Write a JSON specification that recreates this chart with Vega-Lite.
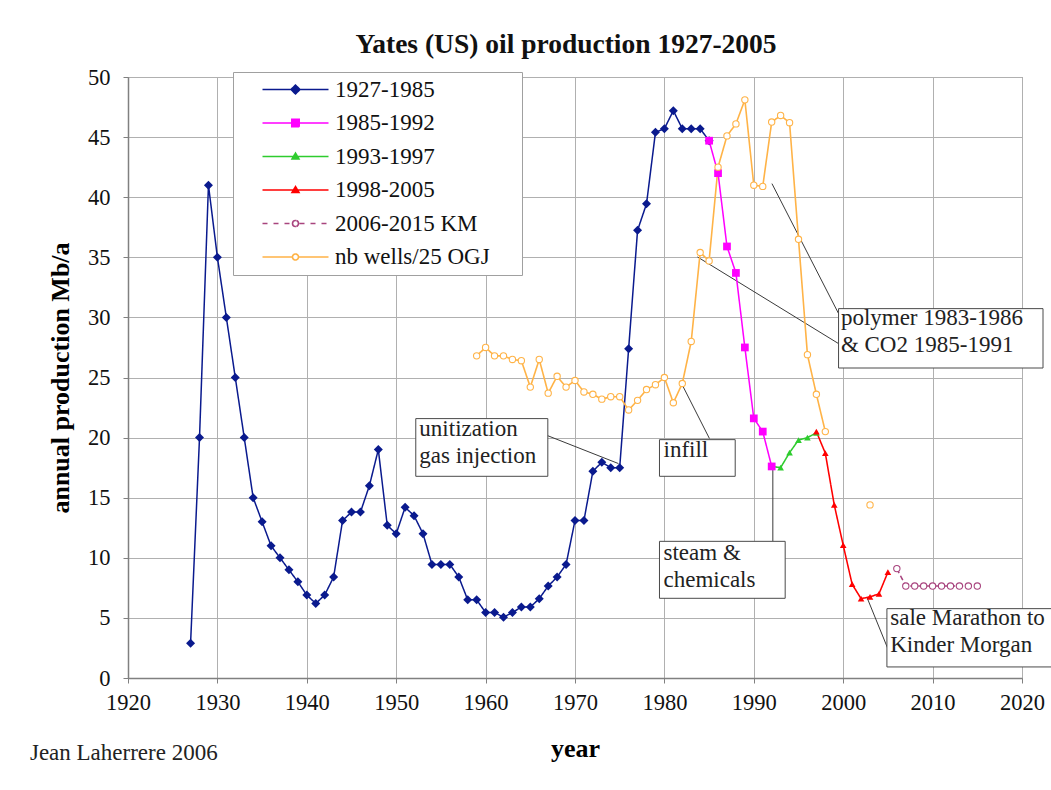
{
  "$schema": "https://vega.github.io/schema/vega-lite/v6.json",
  "width": 894,
  "height": 601,
  "autosize": {"type": "none"},
  "padding": {"left": 128, "top": 77, "right": 29, "bottom": 112},
  "background": "white",
  "config": {
    "font": "Liberation Serif",
    "view": {"stroke": "#808080", "strokeWidth": 1},
    "axis": {
      "labelFont": "Liberation Serif",
      "labelFontSize": 22.5,
      "labelColor": "#111",
      "titleFont": "Liberation Serif",
      "titleFontSize": 26,
      "titleFontWeight": "bold",
      "titleColor": "#000",
      "gridColor": "#b0b0b0",
      "gridWidth": 1,
      "domainColor": "#808080",
      "domainWidth": 1.5,
      "tickColor": "#808080",
      "tickSize": 5,
      "labelFlush": false,
      "labelOverlap": false
    },
    "axisX": {"labelPadding": 8, "titlePadding": 22},
    "axisY": {"labelPadding": 13, "titlePadding": 14},
    "legend": {
      "orient": "none",
      "legendX": 105,
      "legendY": -5,
      "padding": 6,
      "fillColor": "white",
      "strokeColor": "#a0a0a0",
      "symbolSize": 100,
      "symbolOffset": 45,
      "labelOffset": 28,
      "rowPadding": 9.5,
      "symbolStrokeWidth": 1.5,
      "symbolOpacity": 1,
      "labelFont": "Liberation Serif",
      "labelFontSize": 23,
      "labelColor": "#111",
      "labelLimit": 400
    }
  },
  "title": {
    "text": "Yates (US) oil production 1927-2005",
    "font": "Liberation Serif",
    "fontSize": 27.5,
    "fontWeight": "bold",
    "color": "#111",
    "anchor": "middle",
    "dx": -9,
    "offset": 8
  },
  "datasets": {
    "prod": [
      {"year": 1927, "value": 2.9, "series": "1927-1985", "seg": "a"},
      {"year": 1928, "value": 20, "series": "1927-1985", "seg": "a"},
      {"year": 1929, "value": 41, "series": "1927-1985", "seg": "a"},
      {"year": 1930, "value": 35, "series": "1927-1985", "seg": "a"},
      {"year": 1931, "value": 30, "series": "1927-1985", "seg": "a"},
      {"year": 1932, "value": 25, "series": "1927-1985", "seg": "a"},
      {"year": 1933, "value": 20, "series": "1927-1985", "seg": "a"},
      {"year": 1934, "value": 15, "series": "1927-1985", "seg": "a"},
      {"year": 1935, "value": 13, "series": "1927-1985", "seg": "a"},
      {"year": 1936, "value": 11, "series": "1927-1985", "seg": "a"},
      {"year": 1937, "value": 10, "series": "1927-1985", "seg": "a"},
      {"year": 1938, "value": 9, "series": "1927-1985", "seg": "a"},
      {"year": 1939, "value": 8, "series": "1927-1985", "seg": "a"},
      {"year": 1940, "value": 6.9, "series": "1927-1985", "seg": "a"},
      {"year": 1941, "value": 6.2, "series": "1927-1985", "seg": "a"},
      {"year": 1942, "value": 6.9, "series": "1927-1985", "seg": "a"},
      {"year": 1943, "value": 8.4, "series": "1927-1985", "seg": "a"},
      {"year": 1944, "value": 13.1, "series": "1927-1985", "seg": "a"},
      {"year": 1945, "value": 13.8, "series": "1927-1985", "seg": "a"},
      {"year": 1946, "value": 13.8, "series": "1927-1985", "seg": "a"},
      {"year": 1947, "value": 16, "series": "1927-1985", "seg": "a"},
      {"year": 1948, "value": 19, "series": "1927-1985", "seg": "a"},
      {"year": 1949, "value": 12.7, "series": "1927-1985", "seg": "a"},
      {"year": 1950, "value": 12, "series": "1927-1985", "seg": "a"},
      {"year": 1951, "value": 14.2, "series": "1927-1985", "seg": "a"},
      {"year": 1952, "value": 13.5, "series": "1927-1985", "seg": "a"},
      {"year": 1953, "value": 12, "series": "1927-1985", "seg": "a"},
      {"year": 1954, "value": 9.45, "series": "1927-1985", "seg": "a"},
      {"year": 1955, "value": 9.45, "series": "1927-1985", "seg": "a"},
      {"year": 1956, "value": 9.45, "series": "1927-1985", "seg": "a"},
      {"year": 1957, "value": 8.4, "series": "1927-1985", "seg": "a"},
      {"year": 1958, "value": 6.5, "series": "1927-1985", "seg": "a"},
      {"year": 1959, "value": 6.5, "series": "1927-1985", "seg": "a"},
      {"year": 1960, "value": 5.45, "series": "1927-1985", "seg": "a"},
      {"year": 1961, "value": 5.45, "series": "1927-1985", "seg": "a"},
      {"year": 1962, "value": 5.05, "series": "1927-1985", "seg": "a"},
      {"year": 1963, "value": 5.45, "series": "1927-1985", "seg": "a"},
      {"year": 1964, "value": 5.9, "series": "1927-1985", "seg": "a"},
      {"year": 1965, "value": 5.9, "series": "1927-1985", "seg": "a"},
      {"year": 1966, "value": 6.6, "series": "1927-1985", "seg": "a"},
      {"year": 1967, "value": 7.65, "series": "1927-1985", "seg": "a"},
      {"year": 1968, "value": 8.4, "series": "1927-1985", "seg": "a"},
      {"year": 1969, "value": 9.45, "series": "1927-1985", "seg": "a"},
      {"year": 1970, "value": 13.1, "series": "1927-1985", "seg": "a"},
      {"year": 1971, "value": 13.1, "series": "1927-1985", "seg": "a"},
      {"year": 1972, "value": 17.2, "series": "1927-1985", "seg": "a"},
      {"year": 1973, "value": 17.95, "series": "1927-1985", "seg": "a"},
      {"year": 1974, "value": 17.5, "series": "1927-1985", "seg": "a"},
      {"year": 1975, "value": 17.5, "series": "1927-1985", "seg": "a"},
      {"year": 1976, "value": 27.4, "series": "1927-1985", "seg": "a"},
      {"year": 1977, "value": 37.25, "series": "1927-1985", "seg": "a"},
      {"year": 1978, "value": 39.45, "series": "1927-1985", "seg": "a"},
      {"year": 1979, "value": 45.4, "series": "1927-1985", "seg": "a"},
      {"year": 1980, "value": 45.7, "series": "1927-1985", "seg": "a"},
      {"year": 1981, "value": 47.2, "series": "1927-1985", "seg": "a"},
      {"year": 1982, "value": 45.7, "series": "1927-1985", "seg": "a"},
      {"year": 1983, "value": 45.7, "series": "1927-1985", "seg": "a"},
      {"year": 1984, "value": 45.7, "series": "1927-1985", "seg": "a"},
      {"year": 1985, "value": 44.7, "series": "1927-1985", "seg": "a"},
      {"year": 1992, "value": 17.6, "series": "1993-1997", "seg": "a"},
      {"year": 1993, "value": 17.5, "series": "1993-1997", "seg": "a"},
      {"year": 1994, "value": 18.75, "series": "1993-1997", "seg": "a"},
      {"year": 1995, "value": 19.8, "series": "1993-1997", "seg": "a"},
      {"year": 1996, "value": 20.0, "series": "1993-1997", "seg": "a"},
      {"year": 1997, "value": 20.4, "series": "1993-1997", "seg": "a"},
      {"year": 1997, "value": 20.5, "series": "1998-2005", "seg": "a"},
      {"year": 1998, "value": 18.7, "series": "1998-2005", "seg": "a"},
      {"year": 1999, "value": 14.4, "series": "1998-2005", "seg": "a"},
      {"year": 2000, "value": 11.05, "series": "1998-2005", "seg": "a"},
      {"year": 2001, "value": 7.8, "series": "1998-2005", "seg": "a"},
      {"year": 2002, "value": 6.6, "series": "1998-2005", "seg": "a"},
      {"year": 2003, "value": 6.75, "series": "1998-2005", "seg": "a"},
      {"year": 2004, "value": 7.0, "series": "1998-2005", "seg": "a"},
      {"year": 2005, "value": 8.8, "series": "1998-2005", "seg": "a"},
      {"year": 1985, "value": 44.7, "series": "1985-1992", "seg": "a"},
      {"year": 1986, "value": 42.0, "series": "1985-1992", "seg": "a"},
      {"year": 1987, "value": 35.9, "series": "1985-1992", "seg": "a"},
      {"year": 1988, "value": 33.7, "series": "1985-1992", "seg": "a"},
      {"year": 1989, "value": 27.5, "series": "1985-1992", "seg": "a"},
      {"year": 1990, "value": 21.6, "series": "1985-1992", "seg": "a"},
      {"year": 1991, "value": 20.5, "series": "1985-1992", "seg": "a"},
      {"year": 1992, "value": 17.6, "series": "1985-1992", "seg": "a"},
      {"year": 2006, "value": 9.1, "series": "2006-2015 KM", "seg": "a"},
      {"year": 2007, "value": 7.65, "series": "2006-2015 KM", "seg": "a"},
      {"year": 2008, "value": 7.65, "series": "2006-2015 KM", "seg": "a"},
      {"year": 2009, "value": 7.65, "series": "2006-2015 KM", "seg": "a"},
      {"year": 2010, "value": 7.65, "series": "2006-2015 KM", "seg": "a"},
      {"year": 2011, "value": 7.65, "series": "2006-2015 KM", "seg": "a"},
      {"year": 2012, "value": 7.65, "series": "2006-2015 KM", "seg": "a"},
      {"year": 2013, "value": 7.65, "series": "2006-2015 KM", "seg": "a"},
      {"year": 2014, "value": 7.65, "series": "2006-2015 KM", "seg": "a"},
      {"year": 2015, "value": 7.65, "series": "2006-2015 KM", "seg": "a"},
      {"year": 1959, "value": 26.8, "series": "nb wells/25 OGJ", "seg": "a"},
      {"year": 1960, "value": 27.5, "series": "nb wells/25 OGJ", "seg": "a"},
      {"year": 1961, "value": 26.8, "series": "nb wells/25 OGJ", "seg": "a"},
      {"year": 1962, "value": 26.8, "series": "nb wells/25 OGJ", "seg": "a"},
      {"year": 1963, "value": 26.5, "series": "nb wells/25 OGJ", "seg": "a"},
      {"year": 1964, "value": 26.4, "series": "nb wells/25 OGJ", "seg": "a"},
      {"year": 1965, "value": 24.2, "series": "nb wells/25 OGJ", "seg": "a"},
      {"year": 1966, "value": 26.5, "series": "nb wells/25 OGJ", "seg": "a"},
      {"year": 1967, "value": 23.7, "series": "nb wells/25 OGJ", "seg": "a"},
      {"year": 1968, "value": 25.1, "series": "nb wells/25 OGJ", "seg": "a"},
      {"year": 1969, "value": 24.2, "series": "nb wells/25 OGJ", "seg": "a"},
      {"year": 1970, "value": 24.75, "series": "nb wells/25 OGJ", "seg": "a"},
      {"year": 1971, "value": 23.8, "series": "nb wells/25 OGJ", "seg": "a"},
      {"year": 1972, "value": 23.6, "series": "nb wells/25 OGJ", "seg": "a"},
      {"year": 1973, "value": 23.2, "series": "nb wells/25 OGJ", "seg": "a"},
      {"year": 1974, "value": 23.4, "series": "nb wells/25 OGJ", "seg": "a"},
      {"year": 1975, "value": 23.4, "series": "nb wells/25 OGJ", "seg": "a"},
      {"year": 1976, "value": 22.3, "series": "nb wells/25 OGJ", "seg": "a"},
      {"year": 1977, "value": 23.1, "series": "nb wells/25 OGJ", "seg": "a"},
      {"year": 1978, "value": 24.0, "series": "nb wells/25 OGJ", "seg": "a"},
      {"year": 1979, "value": 24.4, "series": "nb wells/25 OGJ", "seg": "a"},
      {"year": 1980, "value": 25.0, "series": "nb wells/25 OGJ", "seg": "a"},
      {"year": 1981, "value": 22.9, "series": "nb wells/25 OGJ", "seg": "a"},
      {"year": 1982, "value": 24.5, "series": "nb wells/25 OGJ", "seg": "a"},
      {"year": 1983, "value": 28.0, "series": "nb wells/25 OGJ", "seg": "a"},
      {"year": 1984, "value": 35.4, "series": "nb wells/25 OGJ", "seg": "a"},
      {"year": 1985, "value": 34.7, "series": "nb wells/25 OGJ", "seg": "a"},
      {"year": 1986, "value": 42.5, "series": "nb wells/25 OGJ", "seg": "a"},
      {"year": 1987, "value": 45.1, "series": "nb wells/25 OGJ", "seg": "a"},
      {"year": 1988, "value": 46.1, "series": "nb wells/25 OGJ", "seg": "a"},
      {"year": 1989, "value": 48.1, "series": "nb wells/25 OGJ", "seg": "a"},
      {"year": 1990, "value": 41.0, "series": "nb wells/25 OGJ", "seg": "a"},
      {"year": 1991, "value": 40.9, "series": "nb wells/25 OGJ", "seg": "a"},
      {"year": 1992, "value": 46.25, "series": "nb wells/25 OGJ", "seg": "a"},
      {"year": 1993, "value": 46.8, "series": "nb wells/25 OGJ", "seg": "a"},
      {"year": 1994, "value": 46.2, "series": "nb wells/25 OGJ", "seg": "a"},
      {"year": 1995, "value": 36.5, "series": "nb wells/25 OGJ", "seg": "a"},
      {"year": 1996, "value": 26.9, "series": "nb wells/25 OGJ", "seg": "a"},
      {"year": 1997, "value": 23.6, "series": "nb wells/25 OGJ", "seg": "a"},
      {"year": 1998, "value": 20.5, "series": "nb wells/25 OGJ", "seg": "a"},
      {"year": 2003, "value": 14.4, "series": "nb wells/25 OGJ", "seg": "b"}
    ],
    "leaders": [
      {"x1": 1966.84, "y1": 20.19, "x2": 1974.86, "y2": 17.84},
      {"x1": 1982.02, "y1": 24.35, "x2": 1985.04, "y2": 19.92},
      {"x1": 1992.13, "y1": 17.53, "x2": 1992.13, "y2": 11.37},
      {"x1": 1983.70, "y1": 35.03, "x2": 1999.48, "y2": 27.82},
      {"x1": 1992.03, "y1": 41.13, "x2": 1999.48, "y2": 30.32},
      {"x1": 2002.64, "y1": 6.74, "x2": 2005.07, "y2": 2.3}
    ],
    "boxes": [
      {"x1": 1952.19, "x2": 1966.96, "y1": 21.58, "y2": 16.78},
      {"x1": 1979.45, "x2": 1987.92, "y1": 19.83, "y2": 16.78},
      {"x1": 1979.45, "x2": 1993.51, "y1": 11.37, "y2": 6.63},
      {"x1": 1999.48, "x2": 2022.35, "y1": 30.73, "y2": 25.79},
      {"x1": 2004.89, "x2": 2024.0, "y1": 5.77, "y2": 0.92}
    ],
    "notes": [
      {"x": 1952.59, "y": 20.1, "text": "unitization\ngas injection"},
      {"x": 1979.9, "y": 18.39, "text": "infill"},
      {"x": 1979.9, "y": 9.79, "text": "steam &\nchemicals"},
      {"x": 1999.74, "y": 29.34, "text": "polymer 1983-1986\n& CO2 1985-1991"},
      {"x": 2005.26, "y": 4.38, "text": "sale Marathon to\nKinder Morgan"},
      {"x": 1909.03, "y": -6.85, "text": "Jean Laherrere 2006"}
    ]
  },
  "layer": [
    {
      "data": {"name": "leaders"},
      "mark": {"type": "rule", "color": "#3a3a3a", "strokeWidth": 1},
      "encoding": {
        "x": {"field": "x1", "type": "quantitative", "scale": {"domain": [1920, 2020], "nice": false, "zero": false},
          "axis": {"title": "year", "values": [1920, 1930, 1940, 1950, 1960, 1970, 1980, 1990, 2000, 2010, 2020], "format": "d", "grid": true}},
        "y": {"field": "y1", "type": "quantitative", "scale": {"domain": [0, 50], "nice": false},
          "axis": {"title": "annual production Mb/a", "values": [0, 5, 10, 15, 20, 25, 30, 35, 40, 45, 50], "grid": true}},
        "x2": {"field": "x2"},
        "y2": {"field": "y2"}
      }
    },
    {
      "data": {"name": "prod"},
      "mark": {"type": "line", "clip": false},
      "encoding": {
        "x": {
          "field": "year", "type": "quantitative",
          "scale": {"domain": [1920, 2020], "nice": false, "zero": false},
          "axis": {"title": "year", "values": [1920, 1930, 1940, 1950, 1960, 1970, 1980, 1990, 2000, 2010, 2020], "format": "d", "grid": true}
        },
        "y": {
          "field": "value", "type": "quantitative",
          "scale": {"domain": [0, 50], "nice": false},
          "axis": {"title": "annual production Mb/a", "values": [0, 5, 10, 15, 20, 25, 30, 35, 40, 45, 50], "grid": true}
        },
        "color": {
          "field": "series", "type": "nominal",
          "scale": {
            "domain": ["1927-1985", "1985-1992", "1993-1997", "1998-2005", "2006-2015 KM", "nb wells/25 OGJ"],
            "range": ["#0a1a8e", "#ff00ff", "#2ecc2e", "#ff0000", "#a8447e", "#ffb347"]
          },
          "legend": {"title": null}
        },
        "strokeDash": {
          "field": "series", "type": "nominal",
          "scale": {
            "domain": ["1927-1985", "1985-1992", "1993-1997", "1998-2005", "2006-2015 KM", "nb wells/25 OGJ"],
            "range": [[1, 0], [1, 0], [1, 0], [1, 0], [5, 3], [1, 0]]
          },
          "legend": null
        },
        "strokeWidth": {
          "field": "series", "type": "nominal",
          "scale": {
            "domain": ["1927-1985", "1985-1992", "1993-1997", "1998-2005", "2006-2015 KM", "nb wells/25 OGJ"],
            "range": [1.5, 1.6, 1.6, 1.6, 1.4, 1.2]
          },
          "legend": null
        },
        "detail": {"field": "seg", "type": "nominal"},
        "order": {"field": "year", "type": "quantitative"}
      }
    },
    {
      "data": {"name": "prod"},
      "mark": {"type": "point", "filled": false, "opacity": 0, "size": 100},
      "encoding": {
        "x": {"field": "year", "type": "quantitative", "scale": {"domain": [1920, 2020], "nice": false, "zero": false},
          "axis": {"title": "year", "values": [1920, 1930, 1940, 1950, 1960, 1970, 1980, 1990, 2000, 2010, 2020], "format": "d", "grid": true}},
        "y": {"field": "value", "type": "quantitative", "scale": {"domain": [0, 50], "nice": false},
          "axis": {"title": "annual production Mb/a", "values": [0, 5, 10, 15, 20, 25, 30, 35, 40, 45, 50], "grid": true}},
        "color": {"field": "series", "type": "nominal", "legend": {"title": null}},
        "shape": {
          "field": "series", "type": "nominal",
          "scale": {
            "domain": ["1927-1985", "1985-1992", "1993-1997", "1998-2005", "2006-2015 KM", "nb wells/25 OGJ"],
            "range": [
              "M-6.6,0L6.6,0M0,-0.9L0.9,0L0,0.9L-0.9,0ZM0,-0.6L0.6,0L0,0.6L-0.6,0ZM0,-0.3L0.3,0L0,0.3L-0.3,0ZM43.3,0",
              "M-6.6,0L6.6,0M-0.75,-0.75L0.75,-0.75L0.75,0.75L-0.75,0.75ZM-0.45,-0.45L0.45,-0.45L0.45,0.45L-0.45,0.45ZM-0.15,-0.15L0.15,-0.15L0.15,0.15L-0.15,0.15ZM43.3,0",
              "M-6.6,0L6.6,0M0,-0.7L0.7,0.5L-0.7,0.5ZM0,-0.35L0.35,0.25L-0.35,0.25ZM43.3,0",
              "M-6.6,0L6.6,0M0,-0.7L0.7,0.5L-0.7,0.5ZM0,-0.35L0.35,0.25L-0.35,0.25ZM43.3,0",
              "M-6.6,0L-5.2,0M-4.4,0L-3,0M-2.2,0L-0.8,0M0.8,0L2.2,0M3,0L4.4,0M5.2,0L6.6,0M-0.6,0A0.6,0.6,0,0,1,0.6,0A0.6,0.6,0,0,0,-0.6,0M-0.6,0A0.6,0.6,0,0,0,0.6,0A0.6,0.6,0,0,1,-0.6,0M43.3,0",
              "M-6.6,0L-0.6,0M0.6,0L6.6,0M-0.6,0A0.6,0.6,0,0,1,0.6,0A0.6,0.6,0,0,0,-0.6,0M-0.6,0A0.6,0.6,0,0,0,0.6,0A0.6,0.6,0,0,1,-0.6,0M43.3,0"
            ]
          },
          "legend": {"title": null}
        }
      }
    },
    {
      "data": {"name": "prod"},
      "transform": [{"filter": "datum.series === '1993-1997' || datum.series === '1998-2005'"}],
      "mark": {"type": "point", "shape": "triangle-up", "size": 44, "filled": true, "opacity": 1},
      "encoding": {
        "x": {"field": "year", "type": "quantitative", "scale": {"domain": [1920, 2020], "nice": false, "zero": false},
          "axis": {"title": "year", "values": [1920, 1930, 1940, 1950, 1960, 1970, 1980, 1990, 2000, 2010, 2020], "format": "d", "grid": true}},
        "y": {"field": "value", "type": "quantitative", "scale": {"domain": [0, 50], "nice": false},
          "axis": {"title": "annual production Mb/a", "values": [0, 5, 10, 15, 20, 25, 30, 35, 40, 45, 50], "grid": true}},
        "color": {"field": "series", "type": "nominal", "legend": null}
      }
    },
    {
      "data": {"name": "prod"},
      "transform": [{"filter": "datum.series === '1927-1985'"}],
      "mark": {"type": "point", "shape": "diamond", "size": 81, "filled": true, "opacity": 1},
      "encoding": {
        "x": {"field": "year", "type": "quantitative", "scale": {"domain": [1920, 2020], "nice": false, "zero": false},
          "axis": {"title": "year", "values": [1920, 1930, 1940, 1950, 1960, 1970, 1980, 1990, 2000, 2010, 2020], "format": "d", "grid": true}},
        "y": {"field": "value", "type": "quantitative", "scale": {"domain": [0, 50], "nice": false},
          "axis": {"title": "annual production Mb/a", "values": [0, 5, 10, 15, 20, 25, 30, 35, 40, 45, 50], "grid": true}},
        "color": {"field": "series", "type": "nominal", "legend": null}
      }
    },
    {
      "data": {"name": "prod"},
      "transform": [{"filter": "datum.series === '1985-1992'"}],
      "mark": {"type": "point", "shape": "square", "size": 60, "filled": true, "opacity": 1},
      "encoding": {
        "x": {"field": "year", "type": "quantitative", "scale": {"domain": [1920, 2020], "nice": false, "zero": false},
          "axis": {"title": "year", "values": [1920, 1930, 1940, 1950, 1960, 1970, 1980, 1990, 2000, 2010, 2020], "format": "d", "grid": true}},
        "y": {"field": "value", "type": "quantitative", "scale": {"domain": [0, 50], "nice": false},
          "axis": {"title": "annual production Mb/a", "values": [0, 5, 10, 15, 20, 25, 30, 35, 40, 45, 50], "grid": true}},
        "color": {"field": "series", "type": "nominal", "legend": null}
      }
    },
    {
      "data": {"name": "prod"},
      "transform": [{"filter": "datum.series === '2006-2015 KM' || datum.series === 'nb wells/25 OGJ'"}],
      "mark": {"type": "point", "shape": "circle", "size": 40, "filled": false, "fill": "white", "fillOpacity": 1, "strokeWidth": 1.1, "opacity": 1},
      "encoding": {
        "x": {"field": "year", "type": "quantitative", "scale": {"domain": [1920, 2020], "nice": false, "zero": false},
          "axis": {"title": "year", "values": [1920, 1930, 1940, 1950, 1960, 1970, 1980, 1990, 2000, 2010, 2020], "format": "d", "grid": true}},
        "y": {"field": "value", "type": "quantitative", "scale": {"domain": [0, 50], "nice": false},
          "axis": {"title": "annual production Mb/a", "values": [0, 5, 10, 15, 20, 25, 30, 35, 40, 45, 50], "grid": true}},
        "color": {"field": "series", "type": "nominal", "legend": null}
      }
    },
    {
      "data": {"name": "boxes"},
      "mark": {"type": "rect", "fill": "white", "stroke": "#4a4a4a", "strokeWidth": 1},
      "encoding": {
        "x": {"field": "x1", "type": "quantitative", "scale": {"domain": [1920, 2020], "nice": false, "zero": false},
          "axis": {"title": "year", "values": [1920, 1930, 1940, 1950, 1960, 1970, 1980, 1990, 2000, 2010, 2020], "format": "d", "grid": true}},
        "x2": {"field": "x2"},
        "y": {"field": "y1", "type": "quantitative", "scale": {"domain": [0, 50], "nice": false},
          "axis": {"title": "annual production Mb/a", "values": [0, 5, 10, 15, 20, 25, 30, 35, 40, 45, 50], "grid": true}},
        "y2": {"field": "y2"}
      }
    },
    {
      "data": {"name": "notes"},
      "mark": {"type": "text", "align": "left", "baseline": "alphabetic", "font": "Liberation Serif", "fontSize": 23, "color": "#222", "lineBreak": "\n", "lineHeight": 27},
      "encoding": {
        "x": {"field": "x", "type": "quantitative", "scale": {"domain": [1920, 2020], "nice": false, "zero": false},
          "axis": {"title": "year", "values": [1920, 1930, 1940, 1950, 1960, 1970, 1980, 1990, 2000, 2010, 2020], "format": "d", "grid": true}},
        "y": {"field": "y", "type": "quantitative", "scale": {"domain": [0, 50], "nice": false},
          "axis": {"title": "annual production Mb/a", "values": [0, 5, 10, 15, 20, 25, 30, 35, 40, 45, 50], "grid": true}},
        "text": {"field": "text", "type": "nominal"}
      }
    }
  ]
}
